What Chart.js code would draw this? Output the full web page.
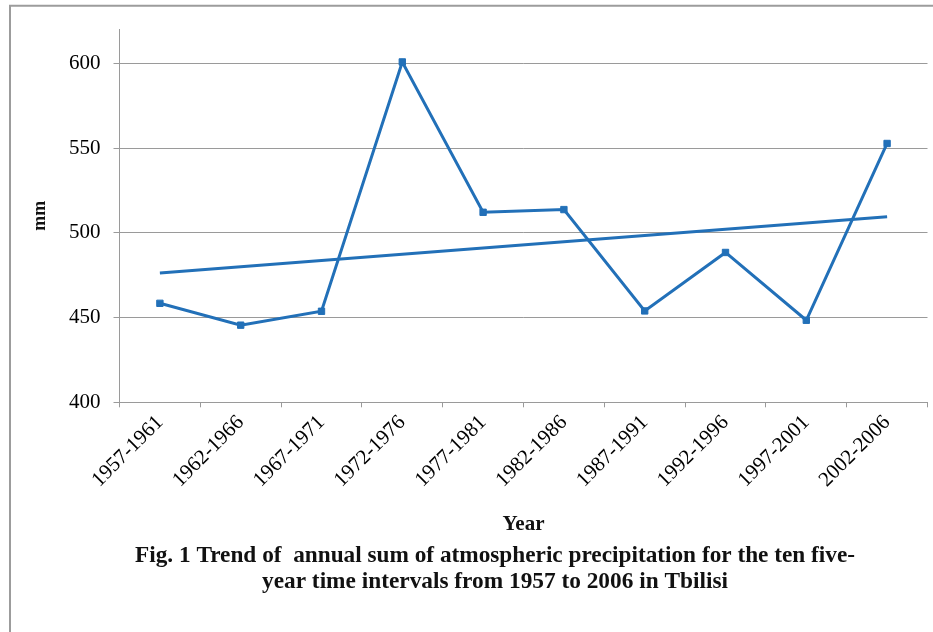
<!DOCTYPE html>
<html>
<head>
<meta charset="utf-8">
<title>Annual precipitation, Tbilisi</title>
<script src="https://cdn.jsdelivr.net/npm/chart.js@4/dist/chart.umd.min.js"></script>
<style>
  html, body { margin: 0; padding: 0; background: #fff; }
  #wrap { width: 933px; height: 632px; position: relative; }
  canvas { display: block; }
</style>
</head>
<body>
<div id="wrap"><canvas id="chart" width="933" height="632"></canvas></div>
<script>
// Five-year intervals and their annual precipitation sums (mm)
const periods = ['1957-1961', '1962-1966', '1967-1971', '1972-1976', '1977-1981',
                 '1982-1986', '1987-1991', '1992-1996', '1997-2001', '2002-2006'];
const precipitation = [458.4, 445.5, 453.7, 600.8, 512.1, 513.7, 453.9, 488.4, 448.4, 552.7];
// Linear trend: values at the first and last interval
const trendEnds = [476.3, 509.4];
const yTicks = [400, 450, 500, 550, 600];
const yAxisMin = 400;
const yAxisMax = 620;
const captionLines = [
  'Fig. 1 Trend of  annual sum of atmospheric precipitation for the ten five-',
  'year time intervals from 1957 to 2006 in Tbilisi'
];

const lineBlue = '#2270b8';
const axisGray = '#9a9a9a';
const serif = '"Liberation Serif", "Times New Roman", serif';

const trendData = periods.map((p, i) =>
  i === 0 ? trendEnds[0] : (i === periods.length - 1 ? trendEnds[1] : null));

// White page, grey frame lines on top and left, and the figure caption
const pagePlugin = {
  id: 'page',
  beforeDraw(chart) {
    const ctx = chart.ctx;
    ctx.save();
    ctx.fillStyle = '#fff';
    ctx.fillRect(0, 0, chart.width, chart.height);
    ctx.strokeStyle = '#9c9c9c';
    ctx.lineWidth = 2;
    ctx.beginPath();
    ctx.moveTo(10, chart.height);
    ctx.lineTo(10, 5.7);
    ctx.lineTo(chart.width, 5.7);
    ctx.stroke();
    ctx.restore();
  },
  afterDraw(chart) {
    const ctx = chart.ctx;
    ctx.save();
    ctx.fillStyle = '#111';
    ctx.font = 'bold 24px ' + serif;
    ctx.textAlign = 'center';
    ctx.textBaseline = 'middle';
    ctx.fillText(captionLines[0], 495, 556, 720);
    ctx.fillText(captionLines[1], 495, 582, 466);
    ctx.restore();
  }
};

new Chart(document.getElementById('chart'), {
  type: 'line',
  data: {
    labels: periods,
    datasets: [
      {
        data: precipitation,
        borderColor: lineBlue,
        backgroundColor: lineBlue,
        borderWidth: 3,
        pointStyle: 'rect',
        pointRadius: 4.5,
        pointBorderWidth: 1,
        tension: 0
      },
      {
        data: trendData,
        spanGaps: true,
        borderColor: lineBlue,
        borderWidth: 3,
        pointRadius: 0,
        tension: 0
      }
    ]
  },
  options: {
    responsive: false,
    animation: false,
    events: [],
    layout: { padding: { left: 20, right: 5, top: 29.4, bottom: 90 } },
    plugins: {
      legend: { display: false },
      tooltip: { enabled: false }
    },
    scales: {
      x: {
        type: 'category',
        offset: true,
        grid: { offset: true, drawOnChartArea: false, tickLength: 5, color: axisGray },
        border: { color: axisGray, width: 1 },
        ticks: {
          minRotation: 45, maxRotation: 45, autoSkip: false,
          color: '#000', padding: 3,
          font: { family: serif, size: 21 }
        },
        title: {
          display: true, text: 'Year', color: '#111',
          font: { family: serif, size: 21, weight: 'bold' },
          padding: { top: 0, bottom: 5 }
        },
        afterFit(scale) { scale.height = 139.7; }
      },
      y: {
        min: yAxisMin,
        max: yAxisMax,
        afterBuildTicks(scale) { scale.ticks = yTicks.map(v => ({ value: v })); },
        grid: { color: axisGray, tickLength: 6 },
        border: { color: axisGray, width: 1 },
        ticks: {
          color: '#000', padding: 13,
          font: { family: serif, size: 21 }
        },
        title: {
          display: true, text: 'mm', color: '#111',
          font: { family: serif, size: 18, weight: 'bold' },
          padding: { top: 10, bottom: 0 }
        },
        afterFit(scale) { scale.width = 99.5; }
      }
    }
  },
  plugins: [pagePlugin]
});
</script>
</body>
</html>
